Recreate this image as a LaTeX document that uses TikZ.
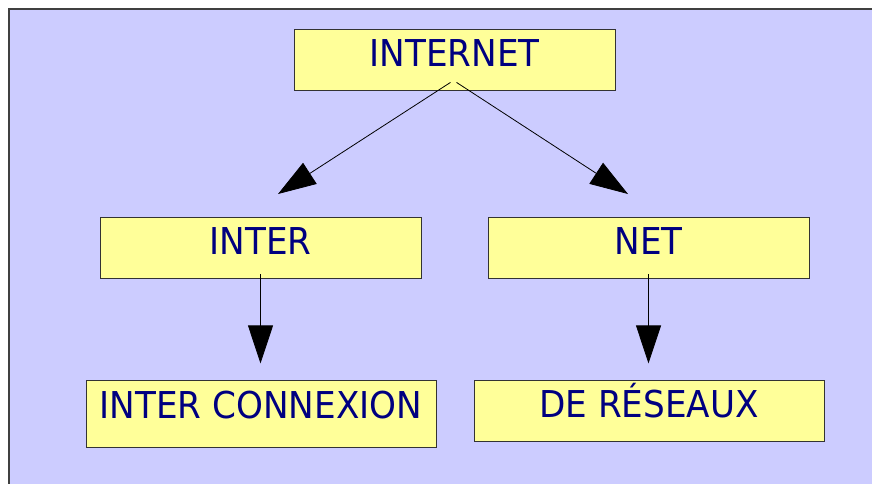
\documentclass[tikz,border=0pt]{standalone}
\usepackage{fontspec}
\setmainfont{DejaVu Sans}[FakeStretch=0.925]
\usetikzlibrary{arrows.meta,shadows,calc}
\definecolor{bg}{HTML}{CCCCFF}
\definecolor{boxfill}{HTML}{FFFF99}
\definecolor{txt}{HTML}{000080}
\begin{document}
\begin{tikzpicture}[x=1pt,y=-1pt,
  box/.style={draw=black!80, line width=0.8pt, fill=boxfill, text=txt,
    font=\fontsize{37}{40}\selectfont, inner xsep=0pt, inner ysep=0pt,
    text height=37pt, text depth=24pt,
    drop shadow={shadow xshift=1.2pt, shadow yshift=-1.2pt, fill=black!60, opacity=1}},
  link/.style={line width=0.8pt, -{Triangle[length=38pt,width=25pt]}}]
\useasboundingbox (0,0) rectangle (872,483);
\fill[white] (0,0) rectangle (872,483);
\fill[bg] (9,9) rectangle (880,490);
\draw[black!75, line width=1.5pt] (9,490) -- (9,9) -- (880,9);

\node[box, minimum width=321pt] (internet) at (454.5,59.5) {INTERNET};
\node[box, minimum width=321pt] (inter) at (260.5,247.5) {INTER};
\node[box, minimum width=321pt] (net) at (648.5,247.5) {NET};
\node[box, minimum width=350pt, text height=38pt, text depth=29pt] (connexion) at (261,413.5) {INTER CONNEXION};
\node[box, minimum width=350pt] (reseaux) at (649,410.5) {DE RÉSEAUX};

\coordinate (t1) at (278,194);
\coordinate (t2) at (628,194);
\coordinate (t3) at ($(inter.south)+(0,85)$);
\coordinate (t4) at ($(net.south)+(0,85)$);

\draw[link] ([xshift=-4pt,yshift=8pt]internet.south) -- (t1);
\draw[link] ([xshift=2pt,yshift=8pt]internet.south) -- (t2);
\draw[link] ([yshift=4pt]inter.south) -- (t3);
\draw[link] ([yshift=4pt]net.south) -- (t4);
\end{tikzpicture}
\end{document}
